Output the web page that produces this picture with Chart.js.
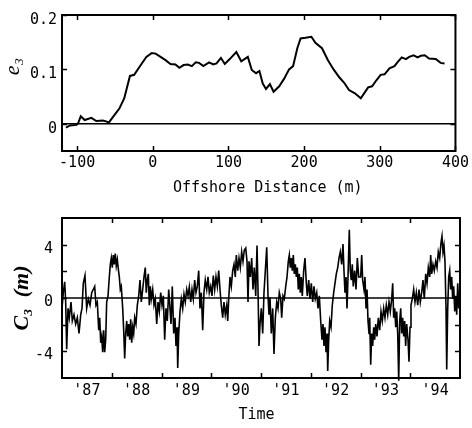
<!DOCTYPE html>
<html><head><meta charset="utf-8">
<script src="https://cdn.jsdelivr.net/npm/chart.js@4.4.1/dist/chart.umd.min.js"></script>
<style>
html,body{margin:0;padding:0;background:#fff;}
#wrap{position:relative;width:472px;height:428px;overflow:hidden;}
canvas{position:absolute;left:0;}
#c1{top:0}
#c2{top:200px}
</style></head><body>
<div id="wrap"><canvas id="c1" width="472" height="200"></canvas><canvas id="c2" width="472" height="228"></canvas></div>
<script>
// ---------- Top panel: e3 vs offshore distance ----------
const offshoreDistance = [-114.8,-109.5,-100.8,-98.7,-95.2,-90,-81.2,-74.7,-66,-60.8,-58.2,-50.8,-44.2,-37.7,-30.2,-24.6,-15.9,-8.5,-1.5,3.7,10.3,16.8,23.3,29.9,35.1,40.7,46.3,51.6,56.8,61.2,66.8,74.3,79.9,84.2,90,95.2,101.7,110.4,116.9,125.6,130.8,136.5,140.9,145.3,149.6,154.8,159.6,167.1,173.6,180.1,185.4,191,195.3,201.8,209.6,214.9,223.6,231.5,238.9,246.2,253.2,259.3,267.1,274.9,279.3,284.6,289.8,295.5,301.1,306.3,312.8,319.4,323.8,329,334.6,338.9,344.7,349.9,354.3,359.5,365.1,373.9,380.4,385.6];
const e3 = [-0.007,-0.003,-0.002,0.001,0.014,0.007,0.011,0.005,0.006,0.004,0.002,0.016,0.028,0.047,0.088,0.090,0.108,0.123,0.130,0.129,0.123,0.117,0.110,0.109,0.103,0.108,0.109,0.106,0.113,0.112,0.106,0.113,0.109,0.111,0.121,0.110,0.119,0.132,0.115,0.123,0.099,0.093,0.097,0.074,0.064,0.073,0.059,0.069,0.083,0.100,0.106,0.139,0.157,0.158,0.160,0.149,0.139,0.117,0.100,0.086,0.075,0.062,0.056,0.047,0.056,0.067,0.069,0.080,0.090,0.091,0.102,0.106,0.114,0.122,0.119,0.123,0.126,0.122,0.125,0.126,0.120,0.119,0.112,0.111];
const distRange = [-120, 400];
const e3Range = [-0.05, 0.2];
const distTicks = [-100, 0, 100, 200, 300, 400];
const e3Ticks = [0.2, 0.1, 0];

// ---------- Bottom panel: C3 time series (years since Jan 1987) ----------
const c3Time = [0.000,0.026,0.054,0.074,0.094,0.121,0.147,0.181,0.207,0.241,0.275,0.308,0.342,0.376,0.402,0.428,0.462,0.496,0.529,0.563,0.597,0.629,0.657,0.683,0.710,0.738,0.758,0.778,0.798,0.818,0.838,0.858,0.878,0.898,0.925,0.951,0.971,0.991,1.011,1.031,1.051,1.071,1.091,1.112,1.132,1.152,1.172,1.192,1.220,1.240,1.260,1.280,1.301,1.321,1.341,1.361,1.381,1.401,1.421,1.441,1.461,1.487,1.514,1.542,1.568,1.594,1.622,1.648,1.674,1.694,1.715,1.735,1.755,1.775,1.795,1.823,1.849,1.875,1.904,1.930,1.956,
1.984,2.010,2.036,2.064,2.090,2.117,2.145,2.171,2.191,2.217,2.245,2.271,2.291,2.312,2.326,2.346,2.372,2.398,2.426,2.452,2.478,2.507,2.533,2.559,2.587,2.613,2.639,2.667,2.693,2.720,2.748,2.774,2.800,2.828,2.854,2.880,2.909,2.935,2.961,2.989,3.015,3.041,3.069,3.095,3.122,3.150,3.176,3.202,3.230,3.256,3.282,3.311,3.331,3.351,3.377,3.403,3.431,3.457,3.483,3.504,3.532,3.558,3.584,3.612,3.638,3.664,3.693,3.719,3.739,3.759,3.785,3.813,3.839,3.865,3.894,3.920,3.940,3.960,3.980,
4.006,4.034,4.060,4.087,4.115,4.141,4.161,4.181,4.207,4.235,4.261,4.288,4.316,4.342,4.368,4.396,4.416,4.442,4.468,4.497,4.523,4.549,4.569,4.589,4.609,4.629,4.649,4.669,4.690,4.710,4.730,4.750,4.770,4.790,4.810,4.830,4.858,4.884,4.911,4.931,4.959,4.985,5.011,5.039,5.065,5.091,5.120,5.146,5.172,5.200,5.226,5.246,5.266,5.286,5.307,5.327,5.341,5.361,5.381,5.407,5.433,5.461,5.487,5.514,5.542,5.568,5.594,5.622,5.648,5.668,5.688,5.709,5.729,5.749,5.775,5.795,5.815,5.835,5.855,5.883,5.910,5.936,5.964,
6.004,6.024,6.044,6.070,6.090,6.111,6.131,6.151,6.171,6.185,6.205,6.225,6.245,6.265,6.285,6.306,6.332,6.358,6.386,6.412,6.438,6.466,6.492,6.519,6.547,6.573,6.599,6.627,6.647,6.667,6.688,6.708,6.728,6.748,6.768,6.788,6.808,6.828,6.848,6.868,6.888,6.908,6.928,6.955,6.975,6.995,7.015,7.041,7.069,7.095,7.122,7.150,7.176,7.202,7.230,7.256,7.282,7.311,7.337,7.363,7.391,7.411,7.431,7.457,7.483,7.512,7.538,7.564,7.592,7.618,7.638,7.658,7.678,7.698,7.719,7.733,7.753,7.773,7.793,7.813,7.833,7.853,7.873,7.894,7.914,7.934,7.954,7.975,7.995];
const c3 = [-0.78,0.40,1.22,-0.30,-3.84,-0.78,-1.48,-0.30,-1.72,-1.25,-1.95,-1.48,-2.66,-1.25,-0.78,1.10,1.69,-0.78,-0.07,-0.54,0.40,0.64,0.87,-0.54,-0.30,-2.42,-1.48,-3.36,-2.89,-4.07,-2.42,-4.07,-3.13,-0.30,0.16,1.58,2.52,2.99,2.28,3.22,2.52,3.34,2.40,2.87,2.16,1.58,0.64,0.87,-0.78,-2.42,-4.54,-2.66,-1.72,-2.89,-1.95,-3.13,-1.60,-3.36,-2.19,-2.66,-1.48,-1.95,-0.54,0.16,1.34,-0.30,0.64,1.58,2.28,0.40,1.34,1.81,-0.54,0.87,-0.07,0.64,-0.54,-0.07,-1.95,-0.30,-1.01,
0.40,-0.54,0.16,-3.13,-0.78,-1.72,0.64,-0.78,-1.95,0.87,-2.66,-1.48,-3.60,-2.19,-5.25,-2.66,-1.01,-0.07,-0.78,0.28,-0.30,0.64,0.16,0.82,-0.30,0.64,-0.07,1.34,0.40,0.87,2.05,-0.78,0.40,-2.42,0.40,1.34,0.64,1.58,0.40,0.87,0.16,1.69,0.64,1.58,0.87,2.05,0.64,-0.54,-1.48,-0.30,-1.25,-0.54,-1.72,-0.07,1.58,0.87,2.05,2.52,1.58,3.22,2.05,2.99,2.28,3.46,2.75,3.58,3.74,2.75,-0.30,2.75,1.58,2.99,0.64,2.28,0.16,3.93,0.64,-3.60,-1.95,
-0.78,-2.66,0.40,2.05,3.81,0.16,-1.25,0.05,-2.66,-0.78,-4.19,-1.48,-0.30,-0.78,0.40,-0.07,-1.48,0.16,-0.07,0.87,1.58,2.75,3.22,2.28,2.99,2.05,3.22,1.81,2.52,1.58,2.28,0.64,1.81,0.40,1.58,0.16,2.05,2.99,1.10,0.16,1.34,-0.07,1.10,-0.30,0.87,-0.07,0.40,-0.78,0.16,-1.72,-3.13,-1.95,-3.60,-2.19,-4.07,-2.66,-5.48,-3.13,-1.72,-2.19,-0.54,0.40,1.10,1.81,2.28,2.99,3.46,2.52,4.05,2.05,0.40,1.58,-0.78,1.58,5.11,2.05,1.34,2.52,0.87,2.05,0.64,2.99,1.58,
1.58,3.22,1.34,0.64,1.58,-0.78,0.64,-1.72,-2.66,-1.48,-5.00,-2.66,-3.60,-2.19,-3.13,-1.95,-2.89,-1.48,-2.42,-1.01,-1.72,-0.78,-1.48,-0.54,-1.25,-0.30,-1.01,-0.07,1.10,-1.48,-0.78,-2.19,-1.01,-2.66,-6.20,-1.72,-0.78,-2.66,-1.48,-2.89,-1.72,-3.60,-1.95,-3.13,-4.78,-2.19,-0.54,-0.07,0.64,-0.30,0.40,-0.54,0.64,-0.30,0.40,1.34,-0.07,1.81,1.10,2.28,1.58,3.22,1.81,2.52,2.05,2.75,2.28,3.46,2.99,4.16,4.64,3.46,3.93,2.75,-0.78,-5.36,-0.78,1.58,2.05,0.64,1.58,-0.07,0.87,-1.01,0.16,-1.25,1.10,-0.78,0.64];
const timeRange = [0, 8];
const c3Range = [-6, 6];
const yearLabels = ["'87","'88","'89","'90","'91","'92","'93","'94"];
const yearLabelPos = [0.5,1.5,2.5,3.5,4.5,5.5,6.5,7.5];
const yearBoundaries = [1,2,3,4,5,6,7];
const c3Ticks = [4, 0, -4];
const c3TickMarks = [4, 2, 0, -2, -4];

// ---------- helpers ----------
Chart.defaults.color = '#000';
const monoFont = {family: "'DejaVu Sans Mono', monospace", size: 15};

const frameTicks = {
  id: 'frameTicks',
  afterDatasetsDraw(chart, args, opts) {
    const {ctx, chartArea: a} = chart;
    const x = chart.scales.x, y = chart.scales.y;
    const L = opts.len;
    ctx.save();
    ctx.strokeStyle = '#000';
    ctx.lineWidth = opts.tickWidth;
    ctx.beginPath();
    for (const v of opts.xMarks) {
      const px = Math.round(x.getPixelForValue(v)) + 0.5;
      ctx.moveTo(px, a.top); ctx.lineTo(px, a.top + L);
      ctx.moveTo(px, a.bottom); ctx.lineTo(px, a.bottom - L);
    }
    for (const v of opts.yMarks) {
      const py = Math.round(y.getPixelForValue(v)) + 0.5;
      ctx.moveTo(a.left, py); ctx.lineTo(a.left + L, py);
      ctx.moveTo(a.right, py); ctx.lineTo(a.right - L, py);
    }
    ctx.stroke();
    ctx.lineWidth = opts.frameWidth;
    ctx.strokeRect(a.left, a.top, a.right - a.left, a.bottom - a.top);
    ctx.restore();
  }
};

function setTicks(values) {
  return function(scale) { scale.ticks = values.map(v => ({value: v})); };
}

// ---------- top chart ----------
new Chart(document.getElementById('c1'), {
  type: 'line',
  data: {
    datasets: [
      {data: distRange.map(d => ({x: d, y: 0})), borderColor: '#000', borderWidth: 1.5, pointRadius: 0},
      {data: offshoreDistance.map((d, i) => ({x: d, y: e3[i]})), borderColor: '#000', borderWidth: 2, pointRadius: 0, tension: 0}
    ]
  },
  options: {
    responsive: false, animation: false, devicePixelRatio: 1,
    layout: {padding: {top: 15, right: 12, left: 0, bottom: 0}},
    plugins: {legend: {display: false}, tooltip: {enabled: false},
      frameTicks: {len: 5, tickWidth: 1.5, frameWidth: 2, xMarks: distTicks, yMarks: e3Ticks}},
    scales: {
      x: {type: 'linear', min: distRange[0], max: distRange[1],
        afterFit(s) { s.height = 49; },
        afterBuildTicks: setTicks(distTicks),
        grid: {display: false, drawTicks: false}, border: {display: false},
        ticks: {font: monoFont, padding: 3, maxRotation: 0, autoSkip: false, callback: v => String(v)},
        title: {display: true, text: '  Offshore Distance (m)', font: monoFont, padding: {top: 0, bottom: 3}}},
      y: {type: 'linear', min: e3Range[0], max: e3Range[1],
        afterFit(s) { s.width = 62; },
        afterBuildTicks: setTicks(e3Ticks),
        grid: {display: false, drawTicks: false}, border: {display: false},
        ticks: {font: monoFont, padding: 5, labelOffset: 5, callback: v => v === 0 ? '0' : v.toFixed(1)},
        title: {display: true, text: '      e\u2083', font: {family: "'Liberation Serif', serif", style: 'italic', size: 22}, padding: {top: 0, bottom: 0}}}
    }
  },
  plugins: [frameTicks]
});

// ---------- bottom chart ----------
new Chart(document.getElementById('c2'), {
  type: 'line',
  data: {
    datasets: [
      {data: timeRange.map(t => ({x: t, y: 0})), borderColor: '#000', borderWidth: 1.5, pointRadius: 0},
      {data: c3Time.map((t, i) => ({x: t, y: c3[i]})), borderColor: '#000', borderWidth: 1.6, pointRadius: 0, tension: 0,
       clip: {left: 0, right: 0, top: 2, bottom: 6}}
    ]
  },
  options: {
    responsive: false, animation: false, devicePixelRatio: 1,
    layout: {padding: {top: 9, right: 12, left: 0, bottom: 0}},
    plugins: {legend: {display: false}, tooltip: {enabled: false},
      frameTicks: {len: 5, tickWidth: 1.5, frameWidth: 2, xMarks: yearBoundaries, yMarks: c3TickMarks}},
    scales: {
      x: {type: 'linear', min: timeRange[0], max: timeRange[1],
        afterFit(s) { s.height = 50; },
        afterBuildTicks: setTicks(yearLabelPos),
        grid: {display: false, drawTicks: false}, border: {display: false},
        ticks: {font: monoFont, padding: 4, maxRotation: 0, autoSkip: false, callback: (v, i) => yearLabels[i]},
        title: {display: true, text: 'Time ', font: monoFont, padding: {top: 0, bottom: 4}}},
      y: {type: 'linear', min: c3Range[0], max: c3Range[1],
        afterFit(s) { s.width = 62; },
        afterBuildTicks: setTicks(c3Ticks),
        grid: {display: false, drawTicks: false}, border: {display: false},
        ticks: {font: monoFont, padding: 9, labelOffset: 4, callback: v => String(v)},
        title: {display: true, text: 'C\u2083  (m)', font: {family: "'Liberation Serif', serif", style: 'italic', weight: 'bold', size: 22}, padding: {top: 9, bottom: 0}}}
    }
  },
  plugins: [frameTicks]
});
</script>
</body></html>
